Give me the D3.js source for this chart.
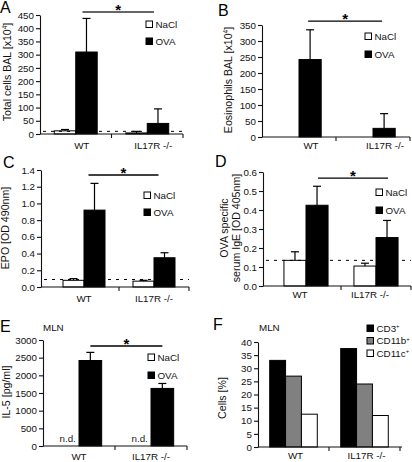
<!DOCTYPE html>
<html><head><meta charset="utf-8">
<script src="https://cdn.jsdelivr.net/npm/d3@7"></script>
<style>
html,body{margin:0;padding:0;background:#fff;}
svg{display:block;font-family:"Liberation Sans",Arial,sans-serif;}
</style></head>
<body>
<svg id="chart" width="412" height="462"></svg>
<script>
// ---------- data ----------
const categories = ["WT", "IL17R -/-"];
const groups = ["NaCl", "OVA"];
// A: total cells BAL [x10^4]
const totalNaCl = [12, 4];
const totalNaClErr = [17, 10];     // mean + SD
const totalOVA = [310, 40];
const totalOVAErr = [437, 95];
const totalBaseline = 10;
const totalTicks = [0, 50, 100, 150, 200, 250, 300, 350, 400, 450];
// B: eosinophils BAL [x10^4]
const eosNaCl = [0, 0];
const eosNaClErr = [0, 0];
const eosOVA = [242, 27];
const eosOVAErr = [335, 73];
const eosTicks = [0, 50, 100, 150, 200, 250, 300, 350];
// C: EPO [OD 490nm]
const epoNaCl = [0.08, 0.07];
const epoNaClErr = [0.10, 0.08];
const epoOVA = [0.92, 0.35];
const epoOVAErr = [1.24, 0.41];
const epoBaseline = 0.09;
const epoTicks = [0, 0.2, 0.4, 0.6, 0.8, 1.0, 1.2, 1.4];
// D: OVA specific serum IgE [OD 405nm]
const igeNaCl = [0.135, 0.105];
const igeNaClErr = [0.18, 0.12];
const igeOVA = [0.425, 0.255];
const igeOVAErr = [0.525, 0.345];
const igeBaseline = 0.135;
const igeTicks = [0, 0.1, 0.2, 0.3, 0.4, 0.5, 0.6];
// E: IL-5 [pg/ml], MLN
const il5NaCl = [null, null];   // n.d.
const il5NaClErr = [null, null];
const il5OVA = [2420, 1630];
const il5OVAErr = [2650, 1770];
const il5Ticks = [0, 500, 1000, 1500, 2000, 2500, 3000];
// F: Cells [%], MLN
const cellTypes = ["CD3", "CD11b", "CD11c"];
const cd3 = [33, 37.5];
const cd11b = [27, 24];
const cd11c = [12.5, 12];
const cellTicks = [0, 5, 10, 15, 20, 25, 30, 35, 40];

// ---------- drawing ----------
const svg = d3.select("#chart");
const FONT = 9.8;

function panel(cfg) {
  const g = svg.append("g");
  const x = d3.scaleBand().domain(categories).range(cfg.band);
  const inner = d3.scaleBand().domain(cfg.series.map(s => s.name))
    .range([-x.bandwidth() * cfg.gw / 2, x.bandwidth() * cfg.gw / 2]);
  const y = d3.scaleLinear().domain([0, cfg.max]).range([cfg.yb, cfg.yt]);

  // bars
  cfg.series.forEach(s => {
    categories.forEach((c, i) => {
      const v = s.values[i];
      if (v == null) return;
      const bx = x(c) + x.bandwidth() / 2 + inner(s.name);
      g.append("rect").attr("x", bx).attr("y", y(v))
        .attr("width", inner.bandwidth()).attr("height", Math.max(0, y(0) - y(v)))
        .attr("fill", s.fill).attr("stroke", "#000").attr("stroke-width", 1);
      if (s.err && s.err[i] != null && s.err[i] > v) {
        const cx = bx + inner.bandwidth() / 2;
        g.append("line").attr("x1", cx).attr("x2", cx).attr("y1", y(v)).attr("y2", y(s.err[i]))
          .attr("stroke", "#000").attr("stroke-width", 1.2);
        g.append("line").attr("x1", cx - 4).attr("x2", cx + 4).attr("y1", y(s.err[i])).attr("y2", y(s.err[i]))
          .attr("stroke", "#000").attr("stroke-width", 1.2);
      }
    });
    if (s.nd) {
      categories.forEach((c, i) => {
        if (s.values[i] == null) {
          const cx = x(c) + x.bandwidth() / 2 + inner(s.name) + inner.bandwidth() / 2;
          g.append("text").attr("x", cx).attr("y", y(0) - 4).attr("text-anchor", "middle")
            .attr("font-size", FONT).attr("fill", "#222").text("n.d.");
        }
      });
    }
  });

  // baseline dashed
  if (cfg.baseline != null) {
    g.append("line").attr("x1", cfg.yx + 3).attr("x2", cfg.xe).attr("y1", y(cfg.baseline)).attr("y2", y(cfg.baseline))
      .attr("stroke", "#000").attr("stroke-width", 1).attr("stroke-dasharray", "3,5");
  }

  // y axis
  const ya = g.append("g").attr("transform", `translate(${cfg.yx},0)`)
    .call(d3.axisLeft(y).tickValues(cfg.ticks).tickSize(4).tickSizeOuter(0).tickPadding(2)
      .tickFormat(cfg.fmt || d3.format("d")));
  ya.select(".domain").attr("stroke", "#111").attr("stroke-width", 1.1);
  ya.selectAll(".tick line").attr("stroke", "#111").attr("stroke-width", 1.1);
  ya.selectAll(".tick text").attr("font-size", FONT).attr("fill", "#111")
    .attr("font-family", "Liberation Sans, Arial, sans-serif");

  // x axis
  g.append("line").attr("x1", cfg.yx).attr("x2", cfg.xe).attr("y1", y(0)).attr("y2", y(0))
    .attr("stroke", "#111").attr("stroke-width", 1.1);
  categories.forEach((c, i) => {
    const tx = x(c) + x.bandwidth();
    g.append("line").attr("x1", tx).attr("x2", tx).attr("y1", y(0)).attr("y2", y(0) + 4)
      .attr("stroke", "#111").attr("stroke-width", 1.1);
    g.append("text").attr("x", x(c) + x.bandwidth() / 2 + (cfg.lx || 0)).attr("y", cfg.lby)
      .attr("text-anchor", "middle").attr("font-size", FONT).attr("fill", "#111").text(c);
  });

  // significance bar
  if (cfg.sig != null) {
    const s = cfg.series[cfg.series.length - 1].name;
    const x1 = x(categories[0]) + x.bandwidth() / 2 + inner(s) + inner.bandwidth() / 2 + (cfg.sx || 0);
    const x2 = x(categories[1]) + x.bandwidth() / 2 + inner(s) + inner.bandwidth() / 2 + (cfg.sx || 0);
    g.append("line").attr("x1", x1).attr("x2", x2).attr("y1", y(cfg.sig)).attr("y2", y(cfg.sig))
      .attr("stroke", cfg.sigColor || "#000").attr("stroke-width", cfg.sigW || 1.3);
    g.append("text").attr("x", (x1 + x2) / 2).attr("y", y(cfg.sig) + 2.5).attr("text-anchor", "middle")
      .attr("font-size", 15).attr("font-weight", "bold").attr("fill", "#000").text("*");
  }

  // legend
  cfg.series.forEach((s, i) => {
    if (!s.legend) return;
    const ly = cfg.leg[1] + i * cfg.leg[2];
    g.append("rect").attr("x", cfg.leg[0]).attr("y", ly).attr("width", 6.5).attr("height", 6.5)
      .attr("fill", s.fill).attr("stroke", "#000").attr("stroke-width", 1);
    const t = g.append("text").attr("x", cfg.leg[0] + 9.5).attr("y", ly + 6.8)
      .attr("font-size", FONT).attr("fill", "#111").text(s.name);
    if (s.sup) t.append("tspan").attr("dy", -3.5).attr("font-size", 6).text(s.sup);
  });

  // y label
  const yl = g.append("text").attr("transform", `translate(${cfg.ylx},${cfg.yly}) rotate(-90)`)
    .attr("text-anchor", "middle").attr("font-size", 10.6).attr("fill", "#111");
  cfg.ylabel(yl);

  // panel letter
  g.append("text").attr("x", cfg.letter[1]).attr("y", cfg.letter[2]).attr("font-size", 16)
    .attr("fill", "#000").text(cfg.letter[0]);
  if (cfg.mln) {
    g.append("text").attr("x", cfg.mln[0]).attr("y", cfg.mln[1]).attr("font-size", FONT)
      .attr("fill", "#111").text("MLN");
  }
}

const fmt1 = d3.format(".1f");

panel({
  band: [40, 183], gw: 0.6, max: 450, yb: 134, yt: 15, yx: 40, xe: 183, ticks: totalTicks,
  series: [
    {name: "NaCl", values: totalNaCl, err: totalNaClErr, fill: "#fff", legend: true},
    {name: "OVA", values: totalOVA, err: totalOVAErr, fill: "#000", legend: true}
  ],
  baseline: totalBaseline, sig: 461, sx: -4, sigColor: "#666", sigW: 2,
  lby: 149, lx: 6, leg: [146, 21, 17],
  ylx: 11, yly: 72,
  ylabel: t => { t.append("tspan").text("Total cells BAL [x10"); t.append("tspan").attr("dy", -4).attr("font-size", 6.5).text("4"); t.append("tspan").attr("dy", 4).text("]"); },
  letter: ["A", 0, 13]
});

panel({
  band: [262, 410], gw: 0.6, max: 350, yb: 137, yt: 25, yx: 262, xe: 410, ticks: eosTicks,
  series: [
    {name: "NaCl", values: eosNaCl, err: eosNaClErr, fill: "#fff", legend: true},
    {name: "OVA", values: eosOVA, err: eosOVAErr, fill: "#000", legend: true}
  ],
  sig: 362, sx: -2,
  lby: 149, lx: 12, leg: [365, 33, 18],
  ylx: 232, yly: 80,
  ylabel: t => { t.append("tspan").text("Eosinophils BAL [x10"); t.append("tspan").attr("dy", -4).attr("font-size", 6.5).text("4"); t.append("tspan").attr("dy", 4).text("]"); },
  letter: ["B", 218, 16]
});

panel({
  band: [49, 189], gw: 0.6, max: 1.4, yb: 287, yt: 170, yx: 41, xe: 189, ticks: epoTicks, fmt: fmt1,
  series: [
    {name: "NaCl", values: epoNaCl, err: epoNaClErr, fill: "#fff", legend: true},
    {name: "OVA", values: epoOVA, err: epoOVAErr, fill: "#000", legend: true}
  ],
  baseline: epoBaseline, sig: 1.34, sx: -6,
  lby: 302, lx: 0, leg: [144, 192, 17],
  ylx: 9, yly: 228,
  ylabel: t => t.text("EPO [OD 490nm]"),
  letter: ["C", 3, 168]
});

panel({
  band: [271, 411], gw: 0.63, max: 0.6, yb: 286, yt: 172, yx: 263, xe: 411, ticks: igeTicks, fmt: fmt1,
  series: [
    {name: "NaCl", values: igeNaCl, err: igeNaClErr, fill: "#fff", legend: true},
    {name: "OVA", values: igeOVA, err: igeOVAErr, fill: "#000", legend: true}
  ],
  baseline: igeBaseline, sig: 0.568, sx: 1,
  lby: 298, lx: -6, leg: [376, 189, 18],
  ylx: 229, yly: 228,
  ylabel: t => {
    t.append("tspan").attr("x", 0).attr("dy", -1).text("OVA specific");
    t.append("tspan").attr("x", 0).attr("dy", 11.5).text("serum IgE [OD 405nm]");
  },
  letter: ["D", 215, 167]
});

panel({
  band: [43, 187], gw: 0.63, max: 3000, yb: 446, yt: 340, yx: 43, xe: 187, ticks: il5Ticks,
  series: [
    {name: "NaCl", values: il5NaCl, err: il5NaClErr, fill: "#fff", legend: true, nd: true},
    {name: "OVA", values: il5OVA, err: il5OVAErr, fill: "#000", legend: true}
  ],
  sig: 2830, sx: 0,
  lby: 460, lx: 0, leg: [148, 354, 18],
  ylx: 10, yly: 392,
  ylabel: t => t.text("IL-5 [pg/ml]"),
  letter: ["E", 0, 332], mln: [43, 331]
});

panel({
  band: [258, 400], gw: 0.67, max: 40, yb: 447, yt: 342, yx: 258, xe: 402, ticks: cellTicks,
  series: [
    {name: "CD3", values: cd3, fill: "#000", legend: true, sup: "+"},
    {name: "CD11b", values: cd11b, fill: "#808080", legend: true, sup: "+"},
    {name: "CD11c", values: cd11c, fill: "#fff", legend: true, sup: "+"}
  ],
  lby: 459, lx: 2, leg: [367, 325, 12.5],
  ylx: 226, yly: 398,
  ylabel: t => t.text("Cells [%]"),
  letter: ["F", 213, 330], mln: [259, 331]
});
</script>
</body></html>
